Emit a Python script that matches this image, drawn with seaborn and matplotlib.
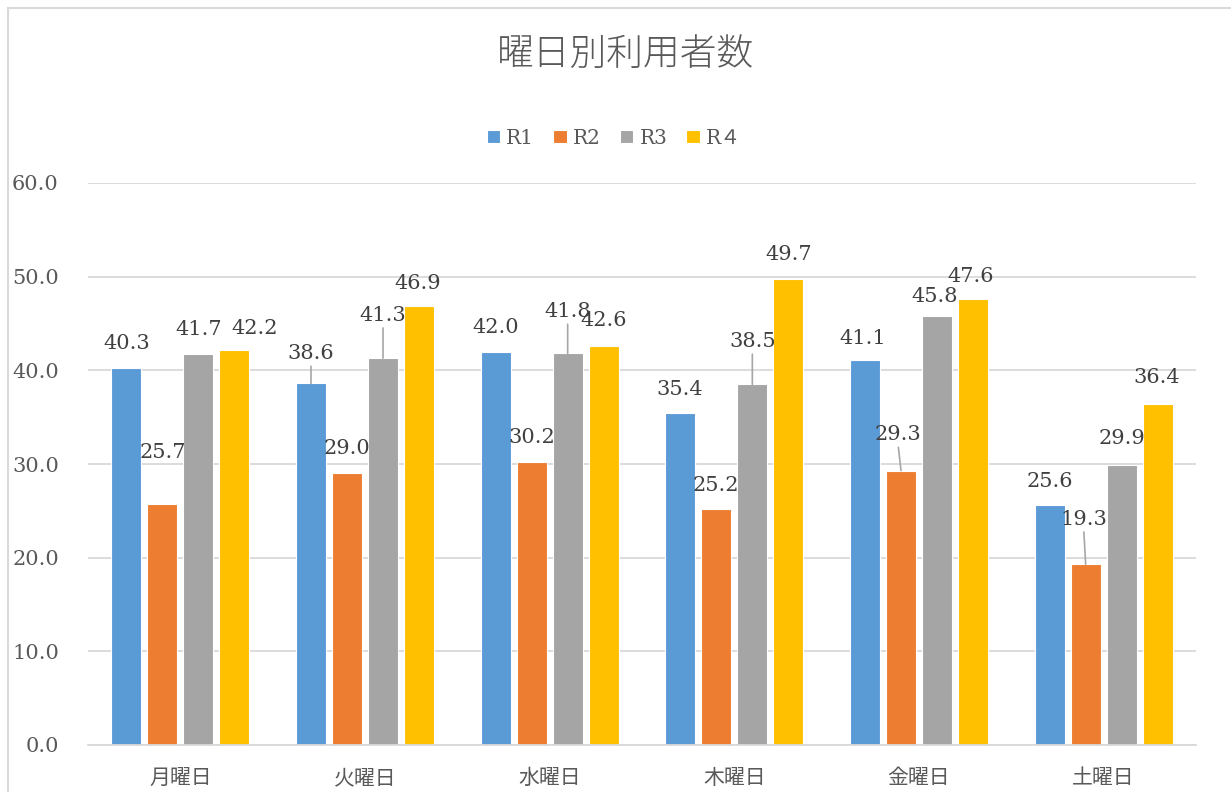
"""
曜日別利用者数 — Excel-style grouped bar chart, redrawn with seaborn.
"""

import matplotlib
matplotlib.use("Agg")
import matplotlib.pyplot as plt
from matplotlib.patches import Rectangle
import pandas as pd
import seaborn as sns

# ── Data ───────────────────────────────────────────────────────────────────────
DAYS   = ["月曜日", "火曜日", "水曜日", "木曜日", "金曜日", "土曜日"]
SERIES = ["R1", "R2", "R3", "R４"]
R1 = [40.3, 38.6, 42.0, 35.4, 41.1, 25.6]
R2 = [25.7, 29.0, 30.2, 25.2, 29.3, 19.3]
R3 = [41.7, 41.3, 41.8, 38.5, 45.8, 29.9]
R4 = [42.2, 46.9, 42.6, 49.7, 47.6, 36.4]
Y_TICKS = [0, 10, 20, 30, 40, 50, 60]

# ── Style ──────────────────────────────────────────────────────────────────────
COLORS   = ["#5b9bd5", "#ed7d31", "#a5a5a5", "#ffc000"]
TEXT_CLR = "#595959"
GRID_CLR = "#d9d9d9"
NUM_FONT = ["DejaVu Serif", "Noto Sans CJK JP"]
JP_FONT  = ["Noto Sans CJK JP", "DejaVu Sans"]

# label lift above each bar top (pixels), per series x day; Excel moved a few
LABEL_LIFT = [
    [24, 30, 24, 24, 22, 24],
    [52, 25, 25, 23, 36, 45],
    [25, 43, 42, 43, 20, 26],
    [21, 22, 25, 25, 23, 27],
]
LABEL_SHIFT = [
    [0, 0, 0, -1, -2, 0],
    [0, 0, 0, -1, -3, -2],
    [0, 0, 0, 0, -2, 0],
    [20, -1, 0, 0, -2, -1],
]
LEADERS = {(0, 1), (2, 1), (2, 2), (2, 3), (1, 4), (1, 5)}

sns.set_theme(style="white")
plt.rcParams["font.family"] = NUM_FONT

df = pd.DataFrame({
    "day": DAYS * 4,
    "series": [s for s in SERIES for _ in DAYS],
    "value": R1 + R2 + R3 + R4,
})

fig = plt.figure(figsize=(12.31, 7.92), dpi=100)
ax = fig.add_axes([88 / 1231, 47 / 792, 1108 / 1231, 562 / 792])

sns.barplot(data=df, x="day", y="value", hue="series", order=DAYS,
            hue_order=SERIES, palette=COLORS, width=0.78, gap=0.17,
            edgecolor="white", linewidth=0.8, saturation=1, ax=ax,
            errorbar=None, legend=True)

ax.set_xlim(-0.5, 5.5)
ax.set_ylim(0, 60)
ax.set_yticks(Y_TICKS)
ax.set_yticklabels([f"{v:.1f}" for v in Y_TICKS], fontsize=15, color=TEXT_CLR)
ax.set_xticks(range(len(DAYS)))
ax.set_xticklabels(DAYS, fontsize=15, color=TEXT_CLR, family=JP_FONT)
ax.tick_params(axis="y", length=0, pad=21)
ax.tick_params(axis="x", length=0, pad=16)
ax.set_xlabel(""); ax.set_ylabel("")
ax.yaxis.grid(True, color=GRID_CLR, linewidth=1.3)
ax.set_axisbelow(True)
for side in ["top", "right", "left"]:
    ax.spines[side].set_visible(False)
ax.spines["bottom"].set_color(GRID_CLR)
ax.spines["bottom"].set_linewidth(1.3)

# data labels
for si, cont in enumerate(ax.containers):
    for di, bar in enumerate(cont):
        h = bar.get_height()
        x = bar.get_x() + bar.get_width() / 2
        arrow = None
        if (si, di) in LEADERS:
            arrow = dict(arrowstyle="-", color="#a6a6a6", lw=1.2,
                         relpos=(0.5, 0.0), shrinkA=0, shrinkB=0)
        ax.annotate(f"{h:.1f}", (x, h),
                    xytext=(LABEL_SHIFT[si][di], LABEL_LIFT[si][di]),
                    textcoords="offset pixels", ha="center", va="center",
                    fontsize=15, color="#404040", arrowprops=arrow,
                    annotation_clip=False)

# legend
handles, labels = ax.get_legend_handles_labels()
ax.legend(handles, labels, loc="center", bbox_to_anchor=(614 / 1231, 1 - 138 / 792),
          bbox_transform=fig.transFigure, ncol=4, frameon=False,
          fontsize=14.5, handlelength=0.67, handleheight=0.67,
          handletextpad=0.3, columnspacing=0.95, labelcolor=TEXT_CLR)

fig.text(626 / 1231, 1 - 55 / 792, "曜日別利用者数", ha="center", va="center",
         fontsize=26.5, color=TEXT_CLR, family=JP_FONT, fontweight="light")

# chart area border (Excel frame, cut off at right/bottom)
fig.patches.append(Rectangle((8 / 1231, -0.05), 1.1, 1 - 8 / 792 + 0.05,
                             transform=fig.transFigure, fill=False,
                             edgecolor=GRID_CLR, linewidth=1.5))

fig.savefig("out.png", dpi=100)
